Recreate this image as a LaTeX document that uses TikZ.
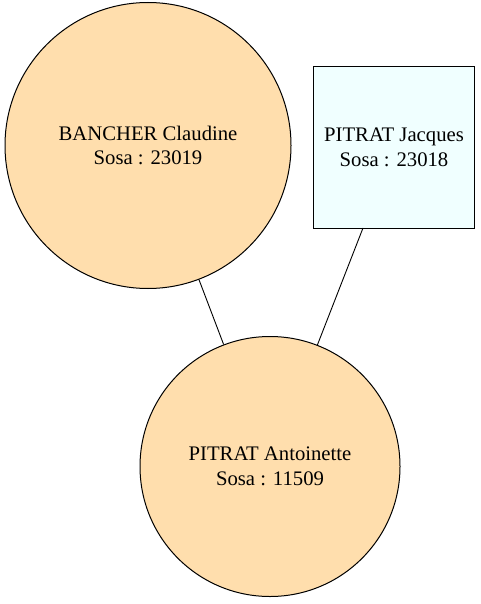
\documentclass[tikz,border=0pt]{standalone}
\usepackage{fontspec}
\setmainfont{Liberation Serif}
\definecolor{navajo}{HTML}{FFDEAD}
\definecolor{azurefill}{HTML}{F0FFFF}
\begin{document}
\begin{tikzpicture}[x=1pt,y=-1pt,
  lbl/.style={font=\rmfamily\fontsize{20.7}{24.5}\selectfont},
  person/.style={draw=black,line width=1pt,circle,fill=navajo,inner sep=0pt,align=center,lbl},
  male/.style={draw=black,line width=1pt,rectangle,fill=azurefill,inner sep=0pt,align=center,lbl},
  link/.style={draw=black,line width=0.9pt}]
\useasboundingbox (0,0) rectangle (480,604);
\node[person,minimum size=286pt] (c1) at (148,145.5) {BANCHER Claudine\\Sosa : 23019};
\node[male,minimum width=161pt,minimum height=161pt] (sq) at (394,147.5) {PITRAT Jacques\\Sosa : 23018};
\node[person,minimum size=260pt] (c2) at (270,466.5) {PITRAT Antoinette\\Sosa : 11509};
\coordinate (j) at (363,228);
\draw[link] (c1) -- (c2);
\draw[link] (j) -- (c2);
\end{tikzpicture}
\end{document}
